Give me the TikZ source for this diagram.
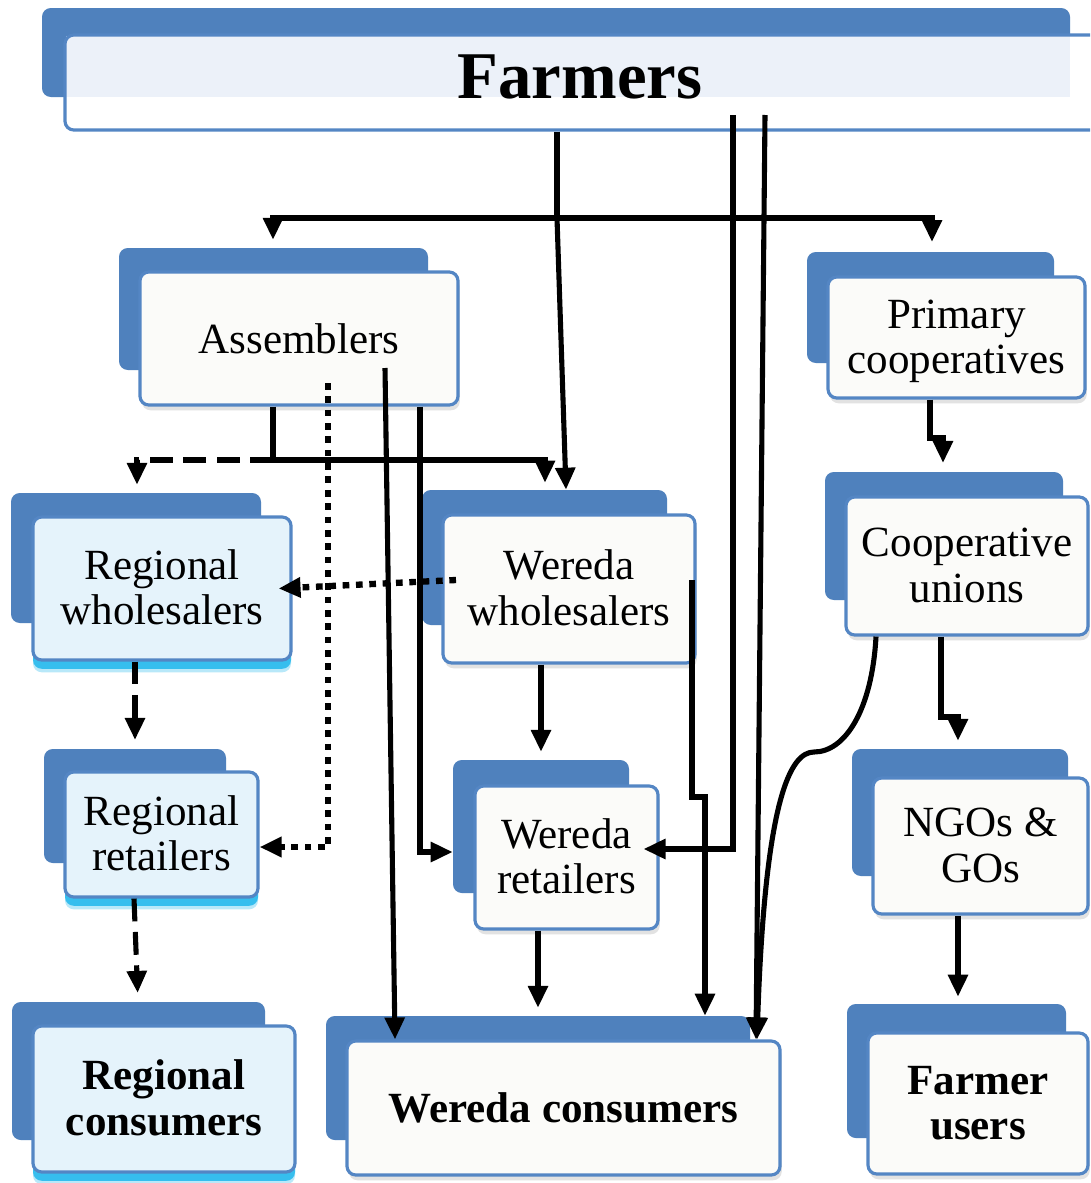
\documentclass[tikz,border=0pt]{standalone}
\usepackage{fontspec}
\setmainfont{Liberation Serif}
\usetikzlibrary{arrows.meta,fit,calc,shadows}
\definecolor{backblue}{RGB}{79,129,189}
\definecolor{edgeblue}{RGB}{84,134,196}
\definecolor{frontwhite}{RGB}{251,251,249}
\definecolor{regfill}{RGB}{229,243,251}
\definecolor{farmlight}{RGB}{236,241,249}
\definecolor{glow}{RGB}{22,180,236}
\newcommand\twolines[2]{\begin{tabular}{@{}c@{}}#1\\#2\end{tabular}}
\tikzset{
  backbox/.style={fill=backblue, rounded corners=5pt, inner sep=0pt, draw=none},
  basebox/.style={draw=edgeblue, line width=1.8pt, rounded corners=5pt, inner sep=0pt},
  frontbox/.style={basebox, fill=frontwhite, drop shadow={shadow xshift=1pt, shadow yshift=-3pt, opacity=0.25, fill=black!45}},
  regbox/.style={basebox, fill=regfill,
     drop shadow={shadow xshift=0pt, shadow yshift=-7pt, opacity=0.3, fill=glow},
     drop shadow={shadow xshift=0pt, shadow yshift=-5pt, opacity=0.8, fill=glow}},
  txt/.style={inner sep=0pt, font=\fontsize{24.5}{26}\selectfont},
  txttwo/.style={txt, yshift=-2.5pt},
  boldtxt/.style={inner sep=0pt, yshift=-2.5pt, font=\fontsize{24.5}{26}\selectfont\bfseries},
  conn/.style={line width=2.9pt, black},
  arr/.style={conn, -{Triangle[length=12.5pt,width=11pt]}},
  dasharr/.style={arr, dash pattern=on 13pt off 6pt},
  dotarr/.style={arr, line width=3.6pt, dash pattern=on 3.8pt off 3.8pt},
}
\begin{document}
\begin{tikzpicture}[x={(0.02cm,0)}, y={(0,-0.02cm)}]
\useasboundingbox (0,0) rectangle (1090,1183);
\clip (0,0) rectangle (1090,1183);
\fill[white] (0,0) rectangle (1090,1183);

% ---------- back rectangles ----------
\node[backbox, fit={(42,8) (1070,97)}] (farmersB) {};
\node[backbox, fit={(119,248) (428,370)}] (asmB) {};
\node[backbox, fit={(11,493) (261,623)}] (rwB) {};
\node[backbox, fit={(422,490) (667,625)}] (wwB) {};
\node[backbox, fit={(807,252) (1054,363)}] (pcB) {};
\node[backbox, fit={(825,472) (1063,600)}] (cuB) {};
\node[backbox, fit={(44,749) (226,863)}] (rrB) {};
\node[backbox, fit={(453,760) (629,893)}] (wrB) {};
\node[backbox, fit={(852,749) (1068,876)}] (ngoB) {};
\node[backbox, fit={(12,1002) (265,1140)}] (rcB) {};
\node[backbox, fit={(326,1016) (750,1140)}] (wcB) {};
\node[backbox, fit={(847,1004) (1066,1138)}] (fuB) {};

% ---------- front boxes ----------
\fill[white, rounded corners=5pt] (65,35) rectangle (1110,130);
\fill[farmlight] (66,36) rectangle (1070,97);
\node[basebox, fit={(65,35) (1110,130)}] (farmers) {};
\node[font=\fontsize{38}{40}\selectfont\bfseries] (farmersT) at (580,77) {Farmers};

\node[frontbox, fit={(140,272) (458,405)}] (asm) {};
\node[regbox, fit={(33,517) (291,660)}] (rw) {};
\node[frontbox, fit={(443,515) (695,663)}] (ww) {};
\node[frontbox, fit={(828,277) (1085,398)}] (pc) {};
\node[frontbox, fit={(846,497) (1088,635)}] (cu) {};
\node[regbox, fit={(65,772) (258,897)}] (rr) {};
\node[frontbox, fit={(475,786) (658,929)}] (wr) {};
\node[frontbox, fit={(873,778) (1088,914)}] (ngo) {};
\node[regbox, fit={(33,1026) (295,1172)}] (rc) {};
\node[frontbox, fit={(347,1041) (780,1175)}] (wc) {};
\node[frontbox, fit={(868,1033) (1088,1174)}] (fu) {};

% ---------- texts ----------
\node[txt] (asmT) at (asm.center) {Assemblers};
\node[txttwo] (rwT) at (rw.center) {\twolines{Regional}{wholesalers}};
\node[txttwo] (wwT) at (ww.center) {\twolines{Wereda}{wholesalers}};
\node[txttwo] (pcT) at (pc.center) {\twolines{Primary}{cooperatives}};
\node[txttwo] (cuT) at (cu.center) {\twolines{Cooperative}{unions}};
\node[txttwo] (rrT) at (rr.center) {\twolines{Regional}{retailers}};
\node[txttwo] (wrT) at (wr.center) {\twolines{Wereda}{retailers}};
\node[txttwo] (ngoT) at (ngo.center) {\twolines{NGOs \&}{GOs}};
\node[boldtxt] (rcT) at (rc.center) {\twolines{Regional}{consumers}};
\node[boldtxt, yshift=2.5pt] (wcT) at (wc.center) {Wereda consumers};
\node[boldtxt] (fuT) at (fu.center) {\twolines{Farmer}{users}};

% ---------- coordinates ----------
\coordinate (s557) at (557,0);
\coordinate (bar) at (557,218);
\coordinate (barL) at (273,218);
\coordinate (barR) at (932,218);
\coordinate (s566) at (566,0);
\coordinate (f733) at (733,115);
\coordinate (f733b) at (733,849);
\coordinate (f765) at (765,115);
\coordinate (s756) at (756,0);
\coordinate (a273) at (273,460);
\coordinate (a137) at (137,460);
\coordinate (a545) at (545,460);
\coordinate (d328) at (328,383);
\coordinate (d328b) at (328,847);
\coordinate (a385) at (385,368);
\coordinate (s395) at (395,0);
\coordinate (a420b) at (420,852);
\coordinate (w456) at (456,580);
\coordinate (s541) at (541,0);
\coordinate (w692) at (692,580);
\coordinate (w692b) at (692,797);
\coordinate (w705) at (705,797);
\coordinate (s538) at (538,0);
\coordinate (s135) at (135,0);
\coordinate (s134) at (134,0);
\coordinate (s138) at (138,0);
\coordinate (p930) at (930,438);
\coordinate (p943) at (943,438);
\coordinate (c941) at (941,717);
\coordinate (c958) at (958,717);
\coordinate (c876) at (876,0);
\coordinate (cmid) at (814,752);
\coordinate (s757) at (757,0);
\coordinate (s958) at (958,0);

% ---------- connectors ----------
% from Farmers
\draw[conn] (farmers.south -| s557) -- (bar);
\draw[arr, shorten >=4.5pt] (bar) -- (barL) -- (asmB.north -| barL);
\draw[arr, shorten >=5.5pt] (bar) -- (barR) -- (pcB.north -| barR);
\draw[arr] (bar) -- (wwB.north -| s566);
\draw[arr] (f733) -- (f733b) -- ($(wr.east |- f733b)+(-16,0)$);
\draw[arr] (f765) -- (wc.north -| s756);

% from Assemblers
\draw[conn] (asm.south -| a273) -- (a273);
\draw[dasharr, shorten >=4.5pt] (a273) -- (a137) -- (rwB.north -| a137);
\draw[arr, shorten >=4pt] (a273) -- (a545) -- (wwB.north -| a545);
\draw[dotarr] (d328) -- (d328b) -- (rr.east |- d328b);
\draw[arr] (a385) -- (wc.north -| s395);
\draw[arr] (asm.south -| a420b) -- (a420b) -- (wrB.west |- a420b);

% from Wereda wholesalers
\draw[dotarr] (w456) -- ($(rw.east)+(-14,0)$);
\draw[arr, shorten >=4.5pt] (ww.south -| s541) -- (wrB.north -| s541);
\draw[arr] (w692) -- (w692b) -- (w705) -- (wcB.north -| w705);

% from Wereda retailers
\draw[arr, shorten >=4.5pt] (wr.south -| s538) -- (wcB.north -| s538);

% regional chain
\draw[dasharr, shorten >=5pt] (rw.south -| s135) -- (rrB.north -| s135);
\draw[dasharr, shorten >=5pt] (rr.south -| s134) -- (rcB.north -| s138);

% cooperative chain
\draw[arr, shorten >=5pt] (pc.south -| p930) -- (p930) -- (p943) -- (cuB.north -| p943);
\draw[arr, shorten >=4.5pt] (cu.south -| c941) -- (c941) -- (c958) -- (ngoB.north -| c958);
\draw[arr] (cu.south -| c876) .. controls (872,710) and (845,752) .. (cmid)
  .. controls (790,752) and (765,800) .. (wc.north -| s757);
\draw[arr, shorten >=4pt] (ngo.south -| s958) -- (fuB.north -| s958);
\end{tikzpicture}
\end{document}
